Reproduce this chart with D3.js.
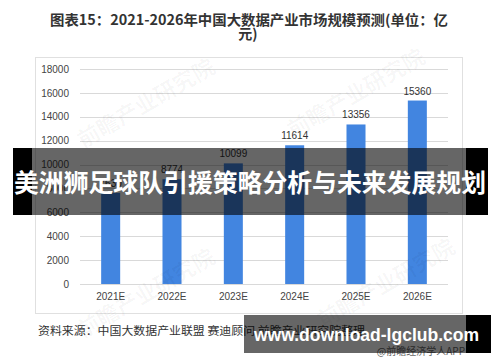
<!DOCTYPE html>
<html>
<head>
<meta charset="utf-8">
<style>
    body { margin: 0; background: #fff; }
    text { font-family: "Noto Sans CJK SC", "Liberation Sans", sans-serif; }
    .grid line { stroke: #d9d9d9; }
</style>
</head>
<body>
    <svg id="container" width="500" height="362"></svg>
<script src="https://d3js.org/d3.v7.min.js"></script>
<script>
    // chart data
    const years = ["2021E", "2022E", "2023E", "2024E", "2025E", "2026E"];
    const values = [7630, 8774, 10099, 11614, 13356, 15360]; // 2021 hidden by banner, estimated
    const yTicks = [0, 2000, 4000, 6000, 8000, 10000, 12000, 14000, 16000, 18000];

    const svg = d3.select("#container");

    // title
    svg.append("text").attr("x", 50).attr("y", 25)
        .attr("font-size", 14).attr("font-weight", "bold").attr("fill", "#333")
        .attr("textLength", 398).attr("lengthAdjust", "spacingAndGlyphs")
        .text("图表15：2021-2026年中国大数据产业市场规模预测(单位：亿");
    svg.append("text").attr("x", 248).attr("y", 39).attr("text-anchor", "middle")
        .attr("font-size", 14).attr("font-weight", "bold").attr("fill", "#333")
        .text("元)");

    // chart frame
    svg.append("rect").attr("x", 35.5).attr("y", 57.5).attr("width", 427).attr("height", 256)
        .attr("fill", "#fff").attr("stroke", "#e0e0e0");

    let yScale = d3.scaleLinear().domain([0, 18000]).range([284, 69]);
    let xScale = d3.scaleBand().domain(years).range([80, 448]).paddingInner(0.69).paddingOuter(0.345);

    // gridlines
    svg.append("g").attr("class", "grid").selectAll("line")
        .data(yTicks).enter().append("line")
        .attr("x1", 80).attr("x2", 448)
        .attr("y1", (d) => Math.round(yScale(d)) + 0.5)
        .attr("y2", (d) => Math.round(yScale(d)) + 0.5);

    // y axis labels
    let yAxis = svg.append("g").attr("transform", "translate(69,0)")
        .call(d3.axisLeft(yScale).tickValues(yTicks).tickFormat(d3.format("d")).tickSize(0).tickPadding(0));
    yAxis.select(".domain").remove();
    yAxis.selectAll("text").attr("font-size", 10).attr("fill", "#444")
        .style("font-family", "'Liberation Sans', sans-serif");

    // x axis labels
    let xAxis = svg.append("g").attr("transform", "translate(0,284)")
        .call(d3.axisBottom(xScale).tickSize(0).tickPadding(9));
    xAxis.select(".domain").remove();
    xAxis.selectAll("text").attr("font-size", 10).attr("fill", "#444")
        .style("font-family", "'Liberation Sans', sans-serif");

    // bars
    svg.selectAll(".bar").data(values).enter().append("rect")
        .attr("class", "bar")
        .attr("x", (d, i) => xScale(years[i]))
        .attr("y", (d) => yScale(d))
        .attr("width", xScale.bandwidth())
        .attr("height", (d) => yScale(0) - yScale(d))
        .attr("fill", "#4285e0");

    // value labels
    svg.selectAll(".val").data(values).enter().append("text")
        .attr("x", (d, i) => xScale(years[i]) + xScale.bandwidth() / 2)
        .attr("y", (d) => yScale(d) - 6)
        .attr("text-anchor", "middle").attr("font-size", 10).attr("fill", "#333")
        .style("font-family", "'Liberation Sans', sans-serif")
        .text((d) => d);

    // faint watermarks
    [[150, 110], [360, 100], [150, 300], [390, 290]].forEach((p) => {
        svg.append("text").attr("transform", `translate(${p[0]},${p[1]}) rotate(-30)`)
            .attr("text-anchor", "middle").attr("font-size", 22).attr("font-weight", "bold")
            .attr("fill", "#000").attr("fill-opacity", 0.035).text("前瞻产业研究院");
    });

    // source
    svg.append("text").attr("x", 38).attr("y", 335).attr("font-size", 11).attr("fill", "#333")
        .attr("textLength", 327).attr("lengthAdjust", "spacingAndGlyphs")
        .text("资料来源：中国大数据产业联盟 赛迪顾问 前瞻产业研究院整理");
    svg.append("text").attr("x", 465).attr("y", 355).attr("text-anchor", "end")
        .attr("font-size", 10).attr("fill", "#666").text("@前瞻经济学人APP");

    // overlay banner (title)
    svg.append("rect").attr("x", 13).attr("y", 148).attr("width", 19).attr("height", 67).attr("fill", "#000");
    svg.append("rect").attr("x", 32).attr("y", 148).attr("width", 434).attr("height", 67).attr("fill", "#000").attr("fill-opacity", 0.6);
    svg.append("rect").attr("x", 466).attr("y", 148).attr("width", 22).attr("height", 67).attr("fill", "#000");
    svg.append("text").attr("x", 250).attr("y", 192).attr("text-anchor", "middle")
        .attr("font-size", 25).attr("font-weight", "bold").attr("fill", "#fff")
        .attr("textLength", 472).attr("lengthAdjust", "spacingAndGlyphs")
        .text("美洲狮足球队引援策略分析与未来发展规划");

    // overlay banner (url)
    svg.append("rect").attr("x", 244).attr("y", 315).attr("width", 222).attr("height", 38).attr("fill", "#000").attr("fill-opacity", 0.6);
    svg.append("rect").attr("x", 466).attr("y", 315).attr("width", 25).attr("height", 38).attr("fill", "#000");
    svg.append("text").attr("x", 254).attr("y", 341)
        .attr("font-size", 19).attr("font-weight", "bold").attr("fill", "#fff")
        .attr("textLength", 225).attr("lengthAdjust", "spacingAndGlyphs")
        .style("font-family", "'Liberation Sans', sans-serif")
        .text("www.download-lgclub.com");
</script>
</html>
